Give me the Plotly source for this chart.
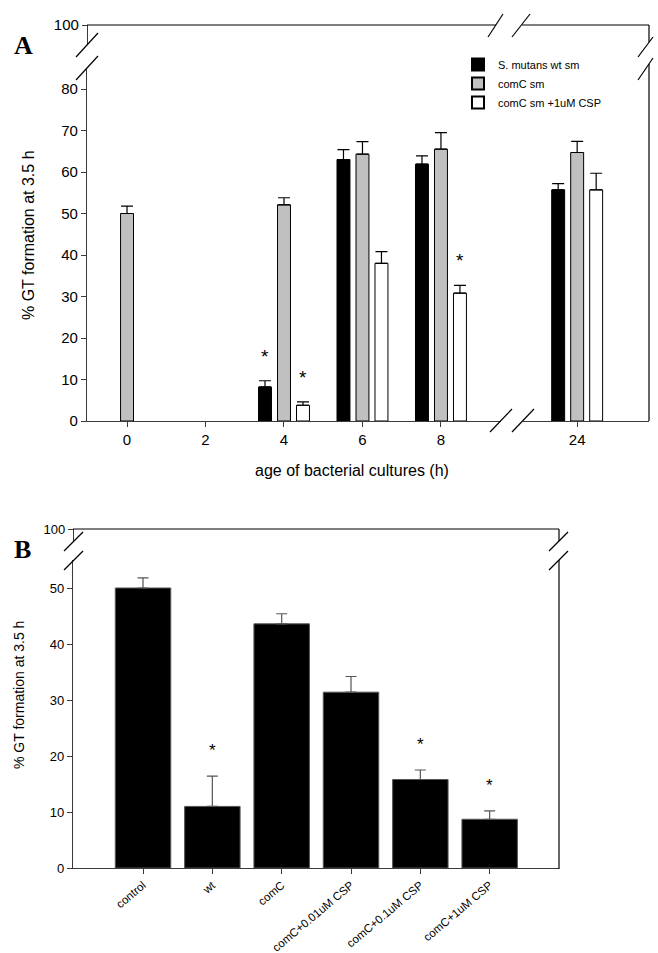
import plotly.graph_objects as go

# ---------------- data ----------------
# Panel A
hours = [0, 2, 4, 6, 8, 24]
series_names = ["S. mutans wt sm", "comC sm", "comC sm +1uM CSP"]
wt_vals = [None, None, 8.2, 63.0, 61.9, 55.7]
wt_err = [0, 0, 1.5, 2.4, 2.0, 1.5]
comc_vals = [50.0, None, 52.1, 64.3, 65.5, 64.7]
comc_err = [1.8, 0, 1.7, 3.0, 4.0, 2.7]
csp_vals = [None, None, 3.8, 38.0, 30.8, 55.7]
csp_err = [0, 0, 0.8, 2.8, 1.9, 4.0]
sig_a = {  # (series index, hour)
    (0, 4), (2, 4), (2, 8)
}

# Panel B
groups_b = ["control", "wt", "comC", "comC+0.01uM CSP", "comC+0.1uM CSP", "comC+1uM CSP"]
vals_b = [50.0, 11.0, 43.6, 31.4, 15.8, 8.7]
err_b = [1.8, 5.4, 1.8, 2.8, 1.7, 1.5]
sig_b = ["wt", "comC+0.1uM CSP", "comC+1uM CSP"]

# ---------------- layout helpers ----------------
W, H = 658, 953
def fx(px):
    return px / W
def fy(py):
    return 1 - py / H

FONT = "Arial, Liberation Sans, sans-serif"
SERIF = "Times New Roman, Liberation Serif, serif"
AXC = "#3a3a3a"
fills = ["#000000", "#c0c0c0", "#ffffff"]
series_vals = [wt_vals, comc_vals, csp_vals]
series_err = [wt_err, comc_err, csp_err]

BAR_W = 0.33     # hours
STEP = 0.484     # hours between grouped bars

fig = go.Figure()
annotations = []

for k in range(3):
    off = (k - 1) * STEP - BAR_W / 2
    for seg, xa in ((0, "x"), (1, "x2")):
        xs, ys, es = [], [], []
        for h, v, e in zip(hours, series_vals[k], series_err[k]):
            if v is None:
                continue
            if (seg == 0 and h <= 8) or (seg == 1 and h > 8):
                xs.append(h); ys.append(v); es.append(e)
        fig.add_trace(go.Bar(
            x=xs, y=ys, width=BAR_W, offset=off,
            name=series_names[k], legendgroup=series_names[k],
            showlegend=(seg == 0), xaxis=xa, yaxis="y",
            marker=dict(color=fills[k], line=dict(color="#000000", width=1)),
            error_y=dict(type="data", symmetric=False, array=es,
                         arrayminus=[0] * len(es), color="#000000",
                         thickness=1.2, width=6),
        ))
        for h, v, e in zip(xs, ys, es):
            if (k, h) in sig_a:
                annotations.append(dict(
                    x=h + (k - 1) * STEP, y=v + e, xref=xa, yref="y",
                    text="*", showarrow=False, yanchor="bottom", yshift=12,
                    font=dict(family=FONT, size=19, color="#000")))

# Panel B
fig.add_trace(go.Bar(
    x=groups_b, y=vals_b, xaxis="x3", yaxis="y3", showlegend=False,
    marker=dict(color="#000000", line=dict(color="#555555", width=1)),
    error_y=dict(type="data", symmetric=False, array=err_b,
                 arrayminus=[0] * len(err_b), color="#555555",
                 thickness=1.2, width=5.5),
))
for g, v, e in zip(groups_b, vals_b, err_b):
    if g in sig_b:
        annotations.append(dict(
            x=g, y=v + e, xref="x3", yref="y3", text="*", showarrow=False,
            yanchor="bottom", yshift=14,
            font=dict(family=FONT, size=17, color="#000")))

# empty traces so the upper (broken) axis segments get drawn
fig.add_trace(go.Scatter(x=[], y=[], xaxis="x", yaxis="y2", showlegend=False,
                         hoverinfo="skip"))
fig.add_trace(go.Scatter(x=[], y=[], xaxis="x3", yaxis="y4", showlegend=False,
                         hoverinfo="skip"))

# ---------------- axes ----------------
tickfontA = dict(family=FONT, size=15, color="#000")
tickfontB = dict(family=FONT, size=13, color="#000")
tickfontBx = dict(family=FONT, size=11.5, color="#000")
common = dict(showline=True, linecolor=AXC, linewidth=1.3, ticks="outside",
              ticklen=5, tickcolor=AXC, showgrid=False, zeroline=False,
              automargin=False)

fig.update_layout(
    width=W, height=H, margin=dict(l=0, r=0, t=0, b=0, autoexpand=False),
    paper_bgcolor="white", plot_bgcolor="rgba(0,0,0,0)",
    barmode="overlay",
    xaxis=dict(domain=[fx(87), fx(501)], range=[-1.02, 9.53], anchor="y",
               tickvals=hours[:5], tickfont=tickfontA, **common),
    xaxis2=dict(domain=[fx(523), fx(649)], range=[22.62, 25.83], anchor="y",
                tickvals=[24], tickfont=tickfontA, **common),
    yaxis=dict(domain=[fy(421), fy(68)], range=[0, 85.06], anchor="x",
               tickvals=list(range(0, 81, 10)), tickfont=tickfontA, **common),
    yaxis2=dict(domain=[fy(45), fy(25)], range=[95.18, 100], anchor="free",
                position=fx(87), tickvals=[100], tickfont=tickfontA, **common),
    xaxis3=dict(domain=[fx(73), fx(559)], range=[-1.01, 6.0], anchor="y3",
                type="category", tickangle=-40, tickfont=tickfontBx, **common),
    yaxis3=dict(domain=[fy(868), fy(560)], range=[0, 55], anchor="x3",
                tickvals=list(range(0, 51, 10)), tickfont=tickfontB, **common),
    yaxis4=dict(domain=[fy(541), fy(529)], range=[97.86, 100], anchor="free",
                position=fx(73), tickvals=[100], tickfont=tickfontB, **common),
    legend=dict(x=fx(458), y=fy(50), xanchor="left", yanchor="top",
                bgcolor="rgba(0,0,0,0)", font=dict(family=FONT, size=11, color="#000"),
                tracegroupgap=0, itemsizing="constant"),
    showlegend=True,
)

# ---------------- frame lines & axis-break marks ----------------
def seg(x0, y0, x1, y1, color="#000", w=1.2):
    return dict(type="line", xref="paper", yref="paper",
                x0=fx(x0), y0=fy(y0), x1=fx(x1), y1=fy(y1),
                line=dict(color=color, width=w))

shapes = [
    # panel A frame
    seg(87, 25, 496, 25), seg(522, 25, 649, 25),
    seg(649, 25, 649, 42), seg(649, 64, 649, 421),
    # panel A break marks
    seg(76, 57, 98, 33), seg(76, 80, 98, 56),
    seg(488, 37, 503, 14), seg(512, 37, 530, 14),
    seg(638, 57, 653, 37), seg(638, 80, 653, 58),
    seg(490, 432, 512, 409), seg(512, 432, 534, 409),
    # panel B frame
    seg(73, 529, 559, 529), seg(559, 529, 559, 541), seg(559, 560, 559, 869),
    # panel B break marks
    seg(64, 551, 83, 532), seg(64, 570, 83, 551),
    seg(549, 551, 568, 532), seg(549, 570, 568, 551),
]
fig.update_layout(shapes=shapes)

def label(text, x, y, size, family=FONT, angle=0):
    return dict(text=text, x=fx(x), y=fy(y), xref="paper", yref="paper",
                xanchor="center", yanchor="middle", textangle=angle,
                showarrow=False, font=dict(family=family, size=size, color="#000"))

annotations += [
    label("<b>A</b>", 23, 45, 26, SERIF),
    label("<b>B</b>", 22, 549, 26, SERIF),
    label("% GT formation at 3.5 h", 28, 235, 16, angle=-90),
    label("age of bacterial cultures (h)", 352, 470, 16),
    label("% GT formation at 3.5 h", 19, 695, 14, angle=-90),
]
fig.update_layout(annotations=annotations)

fig.write_html("out.html")
